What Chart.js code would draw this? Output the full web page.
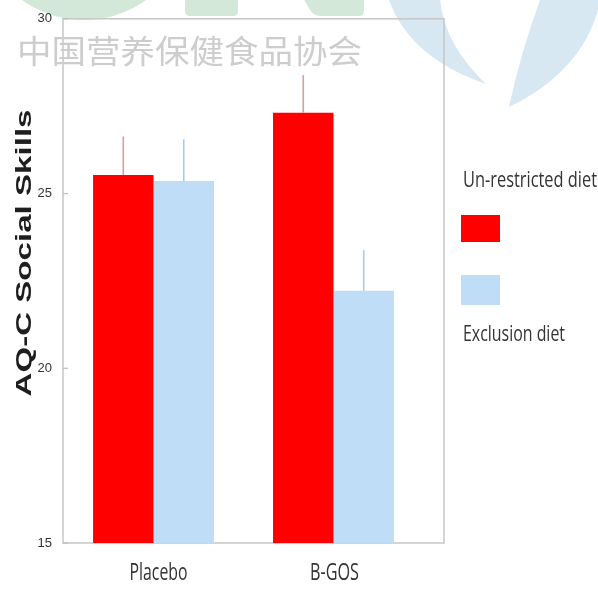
<!DOCTYPE html>
<html>
<head>
<meta charset="utf-8">
<script src="https://cdn.jsdelivr.net/npm/chart.js@4.4.1/dist/chart.umd.min.js"></script>
<style>
  html, body { margin: 0; padding: 0; background: #ffffff; }
  #wrap { width: 598px; height: 601px; }
</style>
</head>
<body>
<div id="wrap"><canvas id="c" width="598" height="601"></canvas></div>
<script>
// Groups on the x axis and the two diet series (means with error above)
const groups = ['Placebo', 'B-GOS'];
const seriesNames = ['Un-restricted diet', 'Exclusion diet'];
const unrestricted = [25.53, 27.31];
const unrestrictedErr = [1.10, 1.08];
const exclusion = [25.36, 22.22];
const exclusionErr = [1.19, 1.16];
const yTicks = [15, 20, 25, 30];
const yTitle = 'AQ-C Social Skills';
const watermarkText = '中国营养保健食品协会';

const RED = '#ff0000';
const BLUE = '#c0ddf8';
const TEXT = '#333333';
const CONDENSED = '"Open Sans"';

// Draws text fitted to a given width (horizontal squeeze only)
function fittedText(ctx, text, x, y, font, width, align, color) {
  ctx.save();
  ctx.font = font;
  const sx = width / ctx.measureText(text).width;
  ctx.translate(x, y);
  ctx.scale(sx, 1);
  ctx.textAlign = align;
  ctx.textBaseline = 'alphabetic';
  ctx.fillStyle = color;
  ctx.fillText(text, 0, 0);
  ctx.restore();
}

// Background emblem and frame drawn behind the bars
const backdrop = {
  id: 'backdrop',
  beforeDraw(chart) {
    const ctx = chart.ctx;
    ctx.save();
    ctx.fillStyle = '#ffffff';
    ctx.fillRect(0, 0, chart.width, chart.height);

    // green emblem pieces along the top edge
    ctx.fillStyle = 'rgba(150, 200, 165, 0.42)';
    ctx.beginPath();
    ctx.arc(84, -86, 106, 0, Math.PI * 2);
    ctx.fill();
    ctx.beginPath();
    ctx.moveTo(185, -2);
    ctx.lineTo(185, 11);
    ctx.quadraticCurveTo(185, 16, 190, 16);
    ctx.lineTo(233, 16);
    ctx.quadraticCurveTo(238, 16, 238, 11);
    ctx.lineTo(238, -2);
    ctx.closePath();
    ctx.fill();
    ctx.beginPath();
    ctx.moveTo(303, -2);
    ctx.lineTo(310, 10);
    ctx.quadraticCurveTo(314, 16, 321, 16);
    ctx.lineTo(359, 16);
    ctx.quadraticCurveTo(364, 16, 364, 11);
    ctx.lineTo(364, -2);
    ctx.closePath();
    ctx.fill();

    // light blue blades on the right
    ctx.fillStyle = 'rgba(175, 210, 232, 0.5)';
    ctx.beginPath();
    ctx.moveTo(389, 0);
    ctx.quadraticCurveTo(410, 58, 486, 84);
    ctx.quadraticCurveTo(445, 45, 440, 0);
    ctx.closePath();
    ctx.fill();
    ctx.beginPath();
    ctx.moveTo(540, 0);
    ctx.quadraticCurveTo(520, 55, 509, 107);
    ctx.quadraticCurveTo(585, 70, 600, 2);
    ctx.lineTo(600, 0);
    ctx.closePath();
    ctx.fill();
    ctx.restore();
  },
  beforeDatasetsDraw(chart) {
    const ctx = chart.ctx;
    const a = chart.chartArea;
    const y = chart.scales.y;
    ctx.save();
    ctx.strokeStyle = '#c6c6c6';
    ctx.lineWidth = 1.5;
    ctx.strokeRect(a.left, a.top, a.right - a.left, a.bottom - a.top);
    // short inward tick marks on the value axis
    ctx.strokeStyle = '#bdbdbd';
    ctx.lineWidth = 1.2;
    yTicks.forEach(v => {
      const py = y.getPixelForValue(v);
      ctx.beginPath();
      ctx.moveTo(a.left, py);
      ctx.lineTo(a.left + 5, py);
      ctx.stroke();
    });

    // association name across the top
    ctx.font = '32px "Noto Sans CJK SC"';
    ctx.textBaseline = 'middle';
    ctx.textAlign = 'left';
    const w = ctx.measureText(watermarkText).width;
    ctx.translate(17, 51);
    ctx.scale(345 / w, 1);
    ctx.fillStyle = '#cdcdcd';
    ctx.fillText(watermarkText, 0, 0);
    ctx.restore();
  }
};

// Error whiskers (upper half only, no caps)
const whiskers = {
  id: 'whiskers',
  afterDatasetsDraw(chart) {
    const ctx = chart.ctx;
    const y = chart.scales.y;
    ctx.save();
    chart.data.datasets.forEach((ds, di) => {
      const meta = chart.getDatasetMeta(di);
      ctx.strokeStyle = ds.whiskerColor;
      ctx.lineWidth = 1.6;
      meta.data.forEach((bar, i) => {
        const v = ds.data[i].y;
        const top = y.getPixelForValue(v + ds.errors[i]);
        ctx.beginPath();
        ctx.moveTo(bar.x, y.getPixelForValue(v));
        ctx.lineTo(bar.x, top);
        ctx.stroke();
      });
    });
    ctx.restore();
  }
};

// Axis title, group labels and legend
const annotations = {
  id: 'annotations',
  afterDraw(chart) {
    const ctx = chart.ctx;
    const a = chart.chartArea;
    const x = chart.scales.x;

    // rotated value-axis title
    ctx.save();
    ctx.font = 'bold 22px "Liberation Sans"';
    const tw = ctx.measureText(yTitle).width;
    ctx.translate(25, 253);
    ctx.rotate(-Math.PI / 2);
    ctx.scale(287 / tw, 1);
    ctx.textAlign = 'center';
    ctx.textBaseline = 'middle';
    ctx.fillStyle = '#1e1e1e';
    ctx.fillText(yTitle, 0, 0);
    ctx.restore();

    // group labels under each pair of bars
    const labelFont = '24px ' + CONDENSED;
    const labelWidths = [58, 49];
    groups.forEach((g, i) => {
      fittedText(ctx, g, x.getPixelForValue(i) + (i === 0 ? 5 : 1), a.bottom + 37, labelFont, labelWidths[i], 'center', TEXT);
    });

    // legend: caption, two swatches, caption
    const lx = a.right + 17;
    const legendFont = '22px ' + CONDENSED;
    fittedText(ctx, seriesNames[0], lx + 2, 187, legendFont, 134, 'left', TEXT);
    ctx.save();
    ctx.fillStyle = RED;
    ctx.fillRect(lx, 215, 39, 27);
    ctx.fillStyle = BLUE;
    ctx.fillRect(lx, 275, 39, 30);
    ctx.restore();
    fittedText(ctx, seriesNames[1], lx + 2, 341, legendFont, 102, 'left', TEXT);
  }
};

new Chart(document.getElementById('c'), {
  type: 'bar',
  data: {
    datasets: [
      {
        label: seriesNames[0],
        data: groups.map((g, i) => ({ x: i, y: unrestricted[i] })),
        errors: unrestrictedErr,
        backgroundColor: RED,
        whiskerColor: '#dc9ca2',
        categoryPercentage: 0.672,
        barPercentage: 1
      },
      {
        label: seriesNames[1],
        data: groups.map((g, i) => ({ x: i, y: exclusion[i] })),
        errors: exclusionErr,
        backgroundColor: BLUE,
        whiskerColor: '#a9cbe6',
        categoryPercentage: 0.672,
        barPercentage: 1
      }
    ]
  },
  options: {
    responsive: false,
    animation: false,
    devicePixelRatio: 1,
    layout: { padding: { left: 0, top: 13, right: 154, bottom: 0 } },
    plugins: {
      legend: { display: false },
      tooltip: { enabled: false }
    },
    scales: {
      x: {
        type: 'linear',
        min: -0.503,
        max: 1.614,
        offset: false,
        afterBuildTicks(s) { s.ticks = groups.map((g, i) => ({ value: i })); },
        grid: { display: false },
        border: { display: false },
        ticks: { display: false },
        afterFit(s) { s.height = 58; }
      },
      y: {
        min: 15,
        max: 30,
        afterBuildTicks(s) { s.ticks = yTicks.map(v => ({ value: v })); },
        grid: { display: false, drawTicks: false },
        border: { display: false },
        ticks: {
          padding: 11,
          color: TEXT,
          font: { family: '"Liberation Sans"', size: 13 }
        },
        afterFit(s) { s.width = 63; }
      }
    }
  },
  plugins: [backdrop, whiskers, annotations]
});
</script>
</body>
</html>
